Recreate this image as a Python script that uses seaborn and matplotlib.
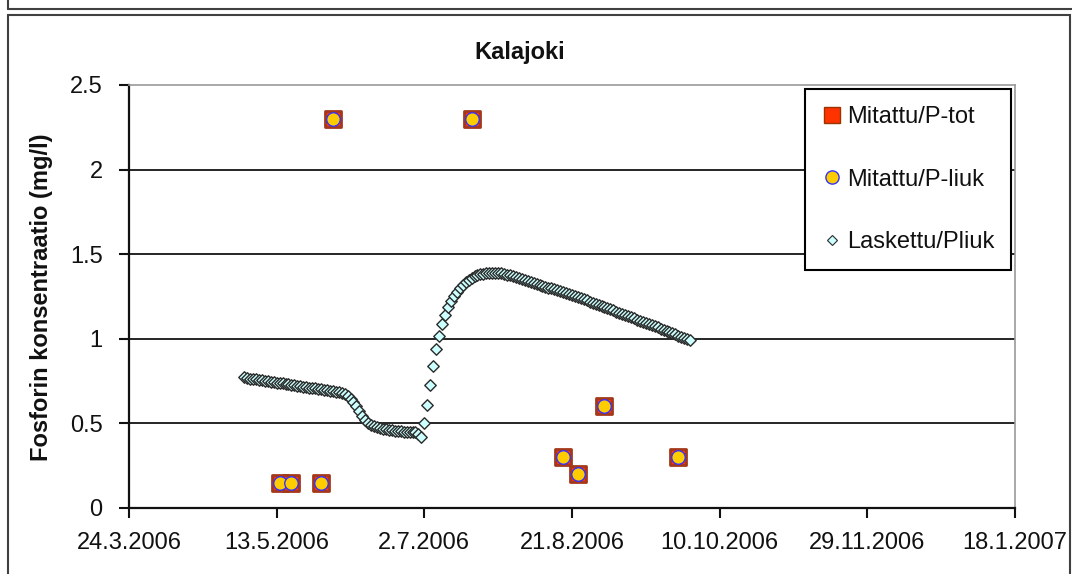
import matplotlib
matplotlib.use("Agg")
import matplotlib.pyplot as plt
from matplotlib.patches import Rectangle
from matplotlib.lines import Line2D
import seaborn as sns
import pandas as pd

# Measured phosphorus samples (mg/l)
sample_dates = ["2006-05-14", "2006-05-18", "2006-05-28", "2006-06-01", "2006-07-18",
                "2006-08-18", "2006-08-23", "2006-09-01", "2006-09-26"]
p_tot = [0.15, 0.15, 0.15, 2.3, 2.3, 0.3, 0.2, 0.6, 0.3]
p_liuk = [0.15, 0.15, 0.15, 2.3, 2.3, 0.3, 0.2, 0.6, 0.3]

# Modelled dissolved phosphorus, one value per day starting 2.5.2006
model_start = "2006-05-02"
model_pliuk = [
    0.772, 0.768, 0.765, 0.762, 0.760, 0.757, 0.754, 0.752, 0.749, 0.746,
    0.744, 0.741, 0.738, 0.736, 0.733, 0.731, 0.728, 0.725, 0.723, 0.720,
    0.718, 0.715, 0.712, 0.710, 0.707, 0.704, 0.702, 0.699, 0.696, 0.693,
    0.690, 0.687, 0.684, 0.680, 0.672, 0.660, 0.645, 0.625, 0.600, 0.572,
    0.545, 0.522, 0.505, 0.492, 0.483, 0.476, 0.471, 0.467, 0.464, 0.461,
    0.459, 0.457, 0.455, 0.454, 0.452, 0.451, 0.450, 0.449, 0.447, 0.440,
    0.418, 0.500, 0.610, 0.728, 0.838, 0.938, 1.018, 1.088, 1.140, 1.188,
    1.225, 1.252, 1.275, 1.298, 1.318, 1.334, 1.348, 1.360, 1.369, 1.376,
    1.381, 1.385, 1.388, 1.390, 1.391, 1.391, 1.390, 1.388, 1.385, 1.380,
    1.375, 1.369, 1.364, 1.358, 1.353, 1.347, 1.342, 1.336, 1.331, 1.325,
    1.320, 1.314, 1.309, 1.303, 1.298, 1.292, 1.287, 1.281, 1.276, 1.270,
    1.265, 1.259, 1.253, 1.246, 1.240, 1.233, 1.227, 1.220, 1.214, 1.207,
    1.201, 1.194, 1.188, 1.181, 1.174, 1.168, 1.161, 1.154, 1.148, 1.141,
    1.134, 1.128, 1.121, 1.114, 1.107, 1.101, 1.094, 1.087, 1.080, 1.074,
    1.067, 1.060, 1.053, 1.046, 1.040, 1.033, 1.026, 1.019, 1.012, 1.006,
    0.999, 0.992,
]

x_tick_labels = ["24.3.2006", "13.5.2006", "2.7.2006", "21.8.2006",
                 "10.10.2006", "29.11.2006", "18.1.2007"]
y_ticks = [0, 0.5, 1, 1.5, 2, 2.5]
y_tick_labels = ["0", "0.5", "1", "1.5", "2", "2.5"]
series_names = ["Mitattu/P-tot", "Mitattu/P-liuk", "Laskettu/Pliuk"]

sns.set_theme(style="white")
plt.rcParams["font.family"] = ["Liberation Sans", "DejaVu Sans"]

measured = pd.DataFrame({"date": pd.to_datetime(sample_dates),
                         "ptot": p_tot, "pliuk": p_liuk})
model = pd.DataFrame({"date": pd.date_range(model_start, periods=len(model_pliuk), freq="D"),
                      "pliuk": model_pliuk})

W, H = 1072, 574
fig = plt.figure(figsize=(W / 100, H / 100), dpi=100)
fig.patch.set_facecolor("white")
ax = fig.add_axes([129 / W, 1 - 508 / H, (1015 - 129) / W, (508 - 85) / H])

# frames of the chart panels
frame_col = "#404040"
fig.add_artist(Line2D([7.5 / W, 7.5 / W], [1, 1 - 8.5 / H], color=frame_col, lw=1.5))
fig.add_artist(Line2D([7.5 / W, 1], [1 - 8.5 / H, 1 - 8.5 / H], color=frame_col, lw=1.5))
fig.add_artist(Rectangle((7.5 / W, -0.05), (1070 - 7.5) / W, 1.05 - 15 / H,
                         transform=fig.transFigure, fill=False, ec=frame_col, lw=1.5))

sq_face, sq_edge = "#FF3300", "#993300"
ci_face, ci_edge = "#FFCC00", "#3333FF"
di_face, di_edge = "#CCFFFF", "#2A2A2A"

sns.scatterplot(data=model, x="date", y="pliuk", ax=ax, marker="D", s=34,
                color=di_face, edgecolor=di_edge, linewidth=1.0, zorder=3, legend=False)
sns.scatterplot(data=measured, x="date", y="ptot", ax=ax, marker="s", s=125,
                color=sq_face, edgecolor="#A3381A", linewidth=2.0, zorder=4, legend=False)
sns.scatterplot(data=measured, x="date", y="pliuk", ax=ax, marker="o", s=95,
                color=ci_face, edgecolor=ci_edge, linewidth=1.0, zorder=5, legend=False)

x_ticks = pd.date_range("2006-03-24", periods=len(x_tick_labels), freq="50D")
ax.set_xlim(x_ticks[0], x_ticks[-1])
ax.set_ylim(0, 2.5)
ax.set_xticks(x_ticks)
ax.set_xticklabels(x_tick_labels)
ax.set_yticks(y_ticks)
ax.set_yticklabels(y_tick_labels)
ax.set_xlabel("")
ax.set_ylabel("")

ax.yaxis.grid(True, color="black", lw=1.2)
ax.yaxis.get_gridlines()[-1].set_visible(False)
ax.set_axisbelow(True)

for side in ["left", "bottom"]:
    ax.spines[side].set_color("#111111")
    ax.spines[side].set_linewidth(1.6)
for side in ["top", "right"]:
    ax.spines[side].set_color("#999999")
    ax.spines[side].set_linewidth(1.2)

ax.tick_params(axis="both", direction="out", length=7, width=1.5, color="#111111",
               labelsize=17, labelcolor="#111111")
ax.tick_params(axis="x", pad=10, bottom=True)
ax.tick_params(axis="y", pad=12, left=True)

fig.text(520 / W, 1 - 52 / H, "Kalajoki", ha="center", va="center",
         fontsize=17, fontweight="bold", color="#111111")
fig.text(42 / W, 1 - 297 / H, "Fosforin konsentraatio (mg/l)", ha="center", va="center",
         rotation=90, fontsize=17, fontweight="bold", color="#111111")

handles = [
    Line2D([], [], ls="none", marker="s", ms=11, mfc=sq_face, mec=sq_edge, mew=1.0),
    Line2D([], [], ls="none", marker="o", ms=9.5, mfc=ci_face, mec=ci_edge, mew=1.0),
    Line2D([], [], ls="none", marker="D", ms=5.5, mfc=di_face, mec=di_edge, mew=0.8),
]
leg = ax.legend(handles, series_names, loc="upper left",
                bbox_to_anchor=(805 / W, 1 - 89 / H), bbox_transform=fig.transFigure,
                fontsize=17, frameon=True, fancybox=False, framealpha=1,
                edgecolor="black", borderpad=0.72, labelspacing=1.72,
                handlelength=0.85, handletextpad=0.2, borderaxespad=0)
leg.get_frame().set_linewidth(1.5)
for t in leg.get_texts():
    t.set_color("#111111")

fig.savefig("out.png", dpi=100)
